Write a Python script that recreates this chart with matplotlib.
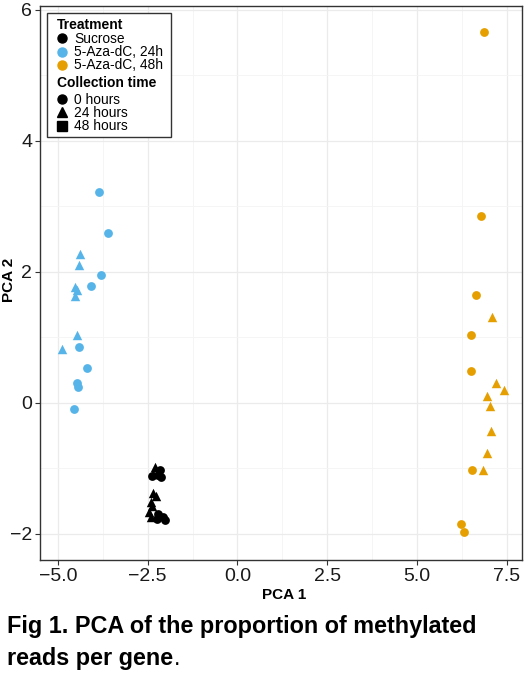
import matplotlib.pyplot as plt
from matplotlib.lines import Line2D
from matplotlib.patches import Rectangle

plt.rcParams['font.family'] = ['Liberation Sans', 'DejaVu Sans']

# Scores PCA
sucrose_0h_x = [-2.15, -2.37, -2.12, -2.22, -2.20, -2.08, -2.03, -2.25]
sucrose_0h_y = [-1.02, -1.12, -1.14, -1.10, -1.70, -1.75, -1.79, -1.78]
sucrose_24h_x = [-2.30, -2.36, -2.34, -2.28, -2.42, -2.38, -2.46, -2.40]
sucrose_24h_y = [-0.98, -1.08, -1.38, -1.43, -1.52, -1.58, -1.66, -1.75]

aza24_0h_x = [-3.85, -3.61, -3.79, -4.07, -4.42, -4.19, -4.48, -4.43, -4.55]
aza24_0h_y = [3.22, 2.59, 1.95, 1.79, 0.85, 0.53, 0.30, 0.24, -0.10]
aza24_24h_x = [-4.38, -4.41, -4.53, -4.48, -4.53, -4.47, -4.89]
aza24_24h_y = [2.27, 2.10, 1.77, 1.73, 1.63, 1.04, 0.82]

aza48_0h_x = [6.87, 6.77, 6.63, 6.51, 6.51, 6.53, 6.23, 6.30]
aza48_0h_y = [5.67, 2.86, 1.64, 1.04, 0.49, -1.02, -1.85, -1.98]
aza48_24h_x = [7.09, 7.20, 7.43, 6.94, 7.02, 7.05, 6.94, 6.84]
aza48_24h_y = [1.31, 0.30, 0.20, 0.10, -0.05, -0.43, -0.76, -1.02]

tratamentos = ['Sucrose', '5-Aza-dC, 24h', '5-Aza-dC, 48h']
cores = ['#000000', '#56B4E9', '#E69F00']
tempos = ['0 hours', '24 hours', '48 hours']
marcadores = ['o', '^', 's']

fig = plt.figure(figsize=(5.27, 6.80), dpi=100)
ax = fig.add_axes([0.0759, 0.1765, 0.9137, 0.8147])

grupos = [
    (sucrose_0h_x, sucrose_0h_y, cores[0], 'o'),
    (sucrose_24h_x, sucrose_24h_y, cores[0], '^'),
    (aza24_0h_x, aza24_0h_y, cores[1], 'o'),
    (aza24_24h_x, aza24_24h_y, cores[1], '^'),
    (aza48_0h_x, aza48_0h_y, cores[2], 'o'),
    (aza48_24h_x, aza48_24h_y, cores[2], '^'),
]
for x, y, c, m in grupos:
    ax.scatter(x, y, s=40 if m == 'o' else 46, c=c, marker=m, linewidths=0, zorder=3)

ax.set_xlim(-5.5, 7.91)
ax.set_ylim(-2.40, 6.06)
ax.set_xticks([-5.0, -2.5, 0.0, 2.5, 5.0, 7.5])
ax.set_xticklabels(['\u22125.0', '\u22122.5', '0.0', '2.5', '5.0', '7.5'])
ax.set_yticks([-2, 0, 2, 4, 6])
ax.set_yticklabels(['\u22122', '0', '2', '4', '6'])
ax.set_xticks([-3.75, -1.25, 1.25, 3.75, 6.25], minor=True)
ax.set_yticks([-1, 1, 3, 5], minor=True)
ax.grid(True, which='major', color='#EBEBEB', linewidth=0.9, zorder=0)
ax.grid(True, which='minor', color='#F4F4F4', linewidth=0.6, zorder=0)
ax.set_axisbelow(True)
ax.tick_params(which='major', labelsize=14, length=3.5, width=0.8,
               color='#333333', labelcolor='#1A1A1A', pad=2)
ax.tick_params(which='minor', length=0)
for sp in ax.spines.values():
    sp.set_color('#333333')
    sp.set_linewidth(1.0)

ax.set_xlabel('PCA 1', fontsize=11, fontweight='bold')
ax.set_ylabel('PCA 2', fontsize=11, fontweight='bold')
ax.xaxis.set_label_coords(0.507, -0.063)
ax.yaxis.set_label_coords(-0.064, 0.505)
ax.xaxis.label.set_va('center')
ax.yaxis.label.set_va('center')

# Legendas
h1 = [Line2D([], [], ls='', marker='o', color=c, markersize=6.5) for c in cores]
h2 = [Line2D([], [], ls='', marker=m, color='black', markersize=6.5) for m in marcadores]
estilo = dict(frameon=False, fontsize=9.9, handlelength=0.8, handletextpad=0.45,
              labelspacing=-0.07, borderpad=0, borderaxespad=0, alignment='left',
              title_fontproperties={'weight': 'bold', 'size': 10})
leg1 = ax.legend(h1, tratamentos, title='Treatment', loc='upper left',
                 bbox_to_anchor=(0.035, 0.979), **estilo)
leg1._legend_box.sep = 0.5
ax.add_artist(leg1)
leg2 = ax.legend(h2, tempos, title='Collection time', loc='upper left',
                 bbox_to_anchor=(0.035, 0.874), **estilo)
leg2._legend_box.sep = 2.5
ax.add_patch(Rectangle((0.0145, 0.7635), 0.2575, 0.2238, transform=ax.transAxes,
                       fill=True, facecolor='white', edgecolor='#333333',
                       linewidth=1.0, zorder=4))
leg1.set_zorder(5)
leg2.set_zorder(5)

# Legenda da figura
fig.text(0.013, 0.0691, 'Fig 1. PCA of the proportion of methylated',
         fontsize=16.8, fontweight='bold', ha='left', va='baseline')
linha2 = fig.text(0.013, 0.0221, 'reads per gene', fontsize=16.8,
                  fontweight='bold', ha='left', va='baseline')
fig.add_artist(plt.Annotation('.', xy=(1.0, 0.0), xycoords=linha2, xytext=(0.5, 0),
                              textcoords='offset points', fontsize=16.8,
                              ha='left', va='bottom'))

fig.savefig('out.png', dpi=100)
